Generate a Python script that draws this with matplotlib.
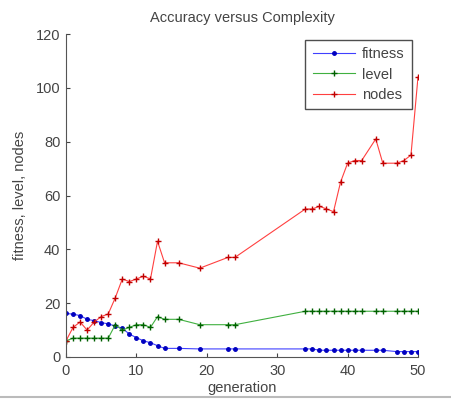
import matplotlib
matplotlib.use("Agg")
import matplotlib.pyplot as plt
from matplotlib.lines import Line2D

plt.rcParams['font.family'] = ['Liberation Sans', 'DejaVu Sans']

generation = [0, 1, 2, 3, 4, 5, 6, 7, 8, 9, 10, 11, 12, 13, 14, 16, 19, 23, 24,
              34, 35, 36, 37, 38, 39, 40, 41, 42, 44, 45, 47, 48, 49, 50]
fitness = [16.2, 15.9, 15.4, 14, 13.5, 12.8, 12.3, 11.5, 10.7, 8.5, 7.2, 6, 5.3, 4.2, 3.2,
           3.2, 3, 3, 3,
           3, 3, 2.5, 2.5, 2.5, 2.5, 2.5, 2.5, 2.5, 2.5, 2.5,
           2, 2, 2, 2]
level = [6, 7, 7, 7, 7, 7, 7, 12, 10, 11, 12, 12, 11, 15, 14,
         14, 12, 12, 12,
         17, 17, 17, 17, 17, 17, 17, 17, 17, 17, 17,
         17, 17, 17, 17]
nodes = [6, 11, 13, 10, 13, 15, 16, 22, 29, 28, 29, 30, 29, 43, 35,
         35, 33, 37, 37,
         55, 55, 56, 55, 54, 65, 72, 73, 73, 81, 72,
         72, 73, 75, 104]

xticks = [0, 10, 20, 30, 40, 50]
yticks = [0, 20, 40, 60, 80, 100, 120]

FS = 10.5
TXT = '#444444'

fig = plt.figure(figsize=(4.52, 4.01), dpi=100)
ax = fig.add_axes([66/452, 1-357/401, (418-66)/452, (357-34)/401])

ax.plot(generation, fitness, color='#4040ff', lw=0.8, marker='.', ms=5,
        mfc='#0000c0', mec='#0000c0', label='fitness')
ax.plot(generation, level, color='#40b040', lw=0.8, marker='+', ms=4, mew=1.0,
        mfc='#006000', mec='#006000', label='level')
ax.plot(generation, nodes, color='#ff4040', lw=0.8, marker='+', ms=4, mew=1.0,
        mfc='#c00000', mec='#c00000', label='nodes')

ax.set_xlim(0, 50)
ax.set_ylim(0, 120)
ax.set_xticks(xticks)
ax.set_yticks(yticks)
ax.tick_params(axis='x', direction='in', length=3, labelsize=FS, colors=TXT, pad=5)
ax.tick_params(axis='y', direction='in', length=3, labelsize=FS, colors=TXT, pad=4)
for s in ['top', 'right']:
    ax.spines[s].set_visible(False)
for s in ['left', 'bottom']:
    ax.spines[s].set_color('#555555')
    ax.spines[s].set_linewidth(0.8)

ax.set_xlabel('generation', fontsize=FS, color=TXT, labelpad=2)
ax.set_ylabel('fitness, level, nodes', fontsize=FS, color=TXT, labelpad=6)
ax.set_title('Accuracy versus Complexity', fontsize=FS, color=TXT, pad=8.5)

leg = ax.legend(loc='upper right', bbox_to_anchor=(0.983, 0.981), fontsize=FS,
                frameon=True, fancybox=False, edgecolor='#222222',
                handlelength=2.9, labelspacing=0.42, borderpad=0.5,
                handletextpad=0.5, borderaxespad=0.0, markerscale=1.0)
leg.get_frame().set_linewidth(1.0)
for t in leg.get_texts():
    t.set_color(TXT)

fig.add_artist(Line2D([0, 1], [1-397/401, 1-397/401], transform=fig.transFigure,
                      color='#bbbbbb', lw=1.5))

fig.savefig('out.png', dpi=100)
